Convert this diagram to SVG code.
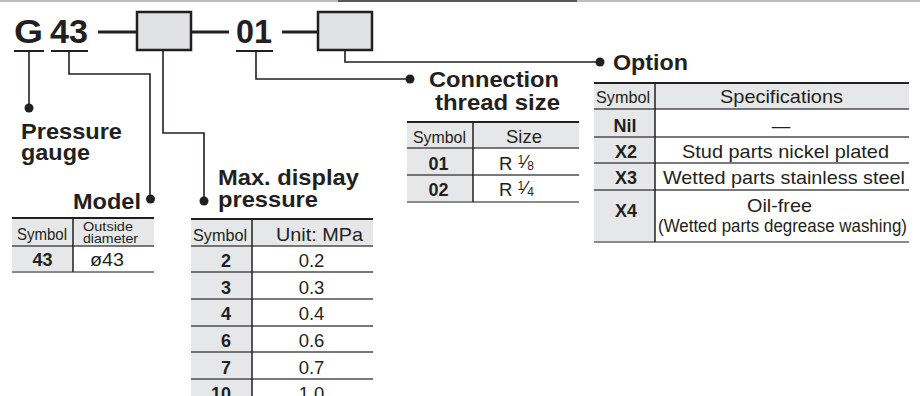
<svg xmlns="http://www.w3.org/2000/svg" width="922" height="396" viewBox="0 0 922 396">
<style>
.b{font-family:"Liberation Sans",Arial,sans-serif;font-weight:bold;fill:#231f20}
.r{font-family:"Liberation Sans",Arial,sans-serif;fill:#231f20}
.h{font-size:22px}
.sym{font-size:16.5px}
.bd{font-size:18px}
.rg{font-size:18.5px}
.con{fill:none;stroke:#231f20;stroke-width:1.6}
.dot{fill:#231f20}
.box{fill:#e1e2e4;stroke:#231f20;stroke-width:2.5}
.dash{stroke:#231f20;stroke-width:3}
.ul{stroke:#231f20;stroke-width:2}
.g{fill:#e6e7e8}
.top{stroke:#231f20;stroke-width:2.2}
.row{stroke:#4d4d4f;stroke-width:1.3}
.bot{stroke:#8a8a8c;stroke-width:2}
.div{stroke:#231f20;stroke-width:1.5}
</style>
<g id="topline">
<line x1="0" y1="1" x2="920" y2="1" stroke="#bdbdbd" stroke-width="2"/>
<line x1="338" y1="1" x2="577" y2="1" stroke="#58585a" stroke-width="2"/>
</g>
<g id="code">
<text class="b" x="14" y="43" font-size="33" textLength="29" lengthAdjust="spacingAndGlyphs">G</text>
<text class="b" x="50" y="43" font-size="33" textLength="38" lengthAdjust="spacingAndGlyphs">43</text>
<text class="b" x="236" y="43" font-size="33" textLength="36" lengthAdjust="spacingAndGlyphs">01</text>
<line class="ul" x1="14" y1="51" x2="44" y2="51"/>
<line class="ul" x1="51" y1="51" x2="88" y2="51"/>
<line class="ul" x1="236" y1="51" x2="273" y2="51"/>
<line class="dash" x1="98" y1="32" x2="137" y2="32"/>
<line class="dash" x1="191" y1="32" x2="229" y2="32"/>
<line class="dash" x1="282" y1="32" x2="318" y2="32"/>
<rect id="box1" class="box" x="137" y="12" width="54" height="38"/>
<rect id="box2" class="box" x="318" y="12" width="54" height="38"/>
</g>
<g id="connectors">
<path class="con" d="M29 51V108"/>
<circle class="dot" cx="29" cy="108" r="4.5"/>
<path class="con" d="M69 51V74H150V199"/>
<circle class="dot" cx="150.5" cy="199" r="4.5"/>
<path class="con" d="M163 50V133H204V201"/>
<circle class="dot" cx="204" cy="201" r="4.5"/>
<path class="con" d="M256 51V79H410"/>
<circle class="dot" cx="410" cy="79" r="4.5"/>
<path class="con" d="M345 50V62H600"/>
<circle class="dot" cx="600" cy="62" r="4.5"/>
</g>
<g id="label-pressure-gauge">
<text class="b h" x="21" y="139" textLength="101" lengthAdjust="spacingAndGlyphs">Pressure</text>
<text class="b h" x="21" y="160" textLength="69" lengthAdjust="spacingAndGlyphs">gauge</text>
</g>
<g id="label-model">
<text class="b h" x="73" y="209" textLength="68" lengthAdjust="spacingAndGlyphs">Model</text>
</g>
<g id="label-max">
<text class="b h" x="218" y="185" textLength="141" lengthAdjust="spacingAndGlyphs">Max. display</text>
<text class="b h" x="218" y="207" textLength="100" lengthAdjust="spacingAndGlyphs">pressure</text>
</g>
<g id="label-connection">
<text class="b h" x="429" y="87" textLength="130" lengthAdjust="spacingAndGlyphs">Connection</text>
<text class="b h" x="435" y="110" textLength="125" lengthAdjust="spacingAndGlyphs">thread size</text>
</g>
<g id="label-option">
<text class="b h" x="613" y="70" textLength="75" lengthAdjust="spacingAndGlyphs">Option</text>
</g>
<g id="table-model">
<rect class="g" x="12" y="218" width="142" height="28"/>
<rect class="g" x="12" y="246" width="61" height="26"/>
<line class="top" x1="12" y1="218" x2="154" y2="218"/>
<line class="row" x1="12" y1="246" x2="154" y2="246"/>
<line class="bot" x1="12" y1="272" x2="154" y2="272"/>
<line class="div" x1="73" y1="218" x2="73" y2="272"/>
<text class="r sym" x="17" y="240" textLength="50" lengthAdjust="spacingAndGlyphs">Symbol</text>
<text class="r" font-size="12" x="83" y="231" textLength="50" lengthAdjust="spacingAndGlyphs">Outside</text>
<text class="r" font-size="12" x="83" y="243" textLength="55" lengthAdjust="spacingAndGlyphs">diameter</text>
<text class="b bd" x="42.5" y="266" text-anchor="middle">43</text>
<text class="r rg" x="90" y="266" textLength="34" lengthAdjust="spacingAndGlyphs">ø43</text>
</g>
<g id="table-max">
<rect class="g" x="191" y="219" width="182" height="27"/>
<rect class="g" x="191" y="246" width="61" height="160"/>
<line class="top" x1="191" y1="219" x2="373" y2="219"/>
<line class="row" x1="191" y1="246" x2="373" y2="246"/>
<line class="row" x1="191" y1="272" x2="373" y2="272"/>
<line class="row" x1="191" y1="299" x2="373" y2="299"/>
<line class="row" x1="191" y1="326" x2="373" y2="326"/>
<line class="row" x1="191" y1="352" x2="373" y2="352"/>
<line class="row" x1="191" y1="379" x2="373" y2="379"/>
<line class="div" x1="252" y1="219" x2="252" y2="396"/>
<text class="r sym" x="193" y="241" textLength="54" lengthAdjust="spacingAndGlyphs">Symbol</text>
<text class="r rg" x="276" y="241" textLength="87" lengthAdjust="spacingAndGlyphs">Unit: MPa</text>
<text class="b bd" x="231" y="267" text-anchor="end">2</text>
<text class="b bd" x="231" y="293.5" text-anchor="end">3</text>
<text class="b bd" x="231" y="320" text-anchor="end">4</text>
<text class="b bd" x="231" y="347" text-anchor="end">6</text>
<text class="b bd" x="231" y="373.5" text-anchor="end">7</text>
<text class="b bd" x="231" y="400" text-anchor="end">10</text>
<text class="r rg" x="311.5" y="267" text-anchor="middle">0.2</text>
<text class="r rg" x="311.5" y="293.5" text-anchor="middle">0.3</text>
<text class="r rg" x="311.5" y="320" text-anchor="middle">0.4</text>
<text class="r rg" x="311.5" y="347" text-anchor="middle">0.6</text>
<text class="r rg" x="311.5" y="373.5" text-anchor="middle">0.7</text>
<text class="r rg" x="311.5" y="400" text-anchor="middle">1.0</text>
</g>
<g id="table-connection">
<rect class="g" x="407" y="122" width="172" height="26"/>
<rect class="g" x="407" y="148" width="66" height="54"/>
<line class="top" x1="407" y1="122" x2="579" y2="122"/>
<line class="row" x1="407" y1="148" x2="579" y2="148"/>
<line class="row" x1="407" y1="175" x2="579" y2="175"/>
<line class="bot" x1="407" y1="202" x2="579" y2="202"/>
<line class="div" x1="473" y1="122" x2="473" y2="202"/>
<text class="r sym" x="413" y="143" textLength="53" lengthAdjust="spacingAndGlyphs">Symbol</text>
<text class="r rg" x="524" y="143" text-anchor="middle">Size</text>
<text class="b bd" x="438.5" y="170" text-anchor="middle">01</text>
<text class="b bd" x="438.5" y="196" text-anchor="middle">02</text>
<text class="r rg" x="499" y="170">R <tspan font-size="12" dy="-6">1</tspan><tspan dy="4">⁄</tspan><tspan font-size="12" dy="2">8</tspan></text>
<text class="r rg" x="499" y="196">R <tspan font-size="12" dy="-6">1</tspan><tspan dy="4">⁄</tspan><tspan font-size="12" dy="2">4</tspan></text>
</g>
<g id="table-option">
<rect class="g" x="594" y="83" width="315" height="26"/>
<rect class="g" x="594" y="109" width="61" height="133"/>
<line class="top" x1="594" y1="83" x2="909" y2="83"/>
<line class="row" x1="594" y1="109" x2="909" y2="109"/>
<line class="row" x1="594" y1="137" x2="909" y2="137"/>
<line class="row" x1="594" y1="163" x2="909" y2="163"/>
<line class="row" x1="594" y1="190" x2="909" y2="190"/>
<line class="bot" x1="594" y1="242" x2="909" y2="242"/>
<line class="div" x1="655" y1="83" x2="655" y2="242"/>
<text class="r sym" x="596" y="103" textLength="54" lengthAdjust="spacingAndGlyphs">Symbol</text>
<text class="r rg" x="720" y="103" textLength="123" lengthAdjust="spacingAndGlyphs">Specifications</text>
<text class="b bd" x="625" y="132" text-anchor="middle">Nil</text>
<text class="r rg" x="781" y="132" text-anchor="middle">—</text>
<text class="b bd" x="626" y="158" text-anchor="middle">X2</text>
<text class="r rg" x="682" y="158" textLength="207" lengthAdjust="spacingAndGlyphs">Stud parts nickel plated</text>
<text class="b bd" x="626" y="184" text-anchor="middle">X3</text>
<text class="r rg" x="663" y="184" textLength="242" lengthAdjust="spacingAndGlyphs">Wetted parts stainless steel</text>
<text class="b bd" x="626" y="217" text-anchor="middle">X4</text>
<text class="r rg" x="747" y="212" textLength="65" lengthAdjust="spacingAndGlyphs">Oil-free</text>
<text class="r" font-size="17.5" x="658" y="232" textLength="249" lengthAdjust="spacingAndGlyphs">(Wetted parts degrease washing)</text>
</g>
</svg>
